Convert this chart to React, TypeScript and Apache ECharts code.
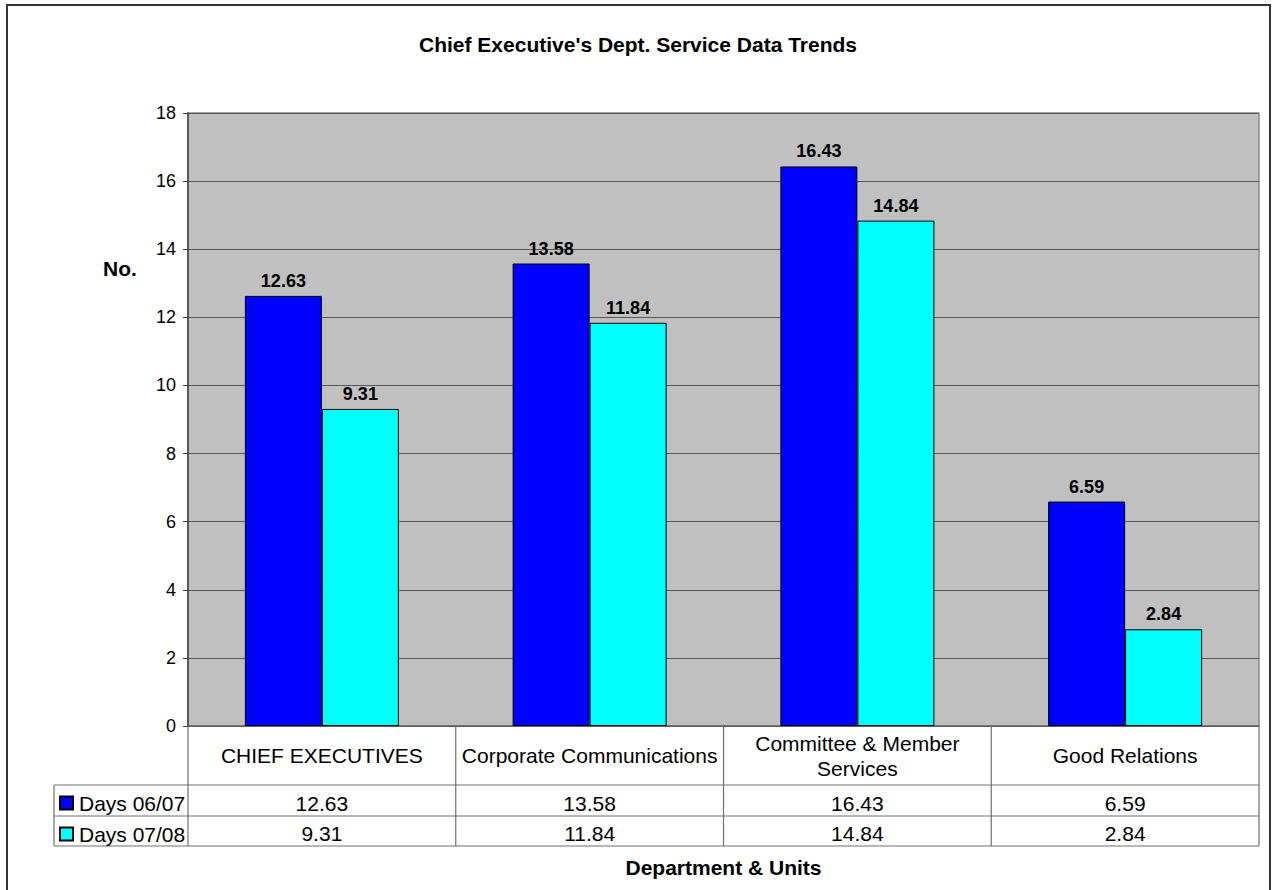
import React, { useEffect, useRef } from "react";
import * as echarts from "echarts";

// Service data per department (days)
const categories = [
  "CHIEF EXECUTIVES",
  "Corporate Communications",
  "Committee & Member\nServices",
  "Good Relations",
];
const seriesNames = ["Days 06/07", "Days 07/08"];
const days0607 = [12.63, 13.58, 16.43, 6.59];
const days0708 = [9.31, 11.84, 14.84, 2.84];
const seriesColors = ["#0000FF", "#00FFFF"];
const yMin = 0;
const yMax = 18;
const yStep = 2;

const W = 1278;
const H = 890;
const FONT = '"Liberation Sans", Arial, Helvetica, sans-serif';

// plot area geometry
const PLOT_LEFT = 188;
const PLOT_RIGHT = 1259;
const PLOT_TOP = 113;
const PLOT_BOTTOM = 726;
// data table geometry below the plot
const ROW_LINES = [785, 816, 846];
const LEGEND_LEFT = 54;
const TABLE_LINE = "#707070";

function buildTable(): any[] {
  const els: any[] = [];
  const n = categories.length;
  const cw = (PLOT_RIGHT - PLOT_LEFT) / n;
  const line = (x1: number, y1: number, x2: number, y2: number) => ({
    type: "line",
    silent: true,
    shape: { x1, y1, x2, y2 },
    style: { stroke: TABLE_LINE, lineWidth: 1.2 },
  });
  const text = (t: string, x: number, y: number) => ({
    type: "text",
    silent: true,
    x,
    y,
    style: {
      text: t,
      fill: "#000",
      font: `21px ${FONT}`,
      fontSize: 21,
      fontFamily: FONT,
      lineHeight: 25,
      align: "center",
      verticalAlign: "middle",
      textAlign: "center",
      textVerticalAlign: "middle",
    },
  });

  ROW_LINES.forEach((y) => els.push(line(LEGEND_LEFT, y, PLOT_RIGHT, y)));
  els.push(line(LEGEND_LEFT, ROW_LINES[0], LEGEND_LEFT, ROW_LINES[2]));
  for (let i = 0; i <= n; i++) {
    const x = PLOT_LEFT + i * cw;
    els.push(line(x, PLOT_BOTTOM, x, ROW_LINES[2]));
  }

  const rows = [days0607, days0708];
  categories.forEach((c, i) => {
    const cx = PLOT_LEFT + (i + 0.5) * cw;
    els.push(text(c, cx, (PLOT_BOTTOM + ROW_LINES[0]) / 2));
    rows.forEach((vals, r) => {
      const cy = (ROW_LINES[r] + ROW_LINES[r + 1]) / 2 + 2.5;
      els.push(text(vals[i].toFixed(2), cx, cy));
    });
  });
  return els;
}

export default function App() {
  const ref = useRef<HTMLDivElement>(null);

  useEffect(() => {
    document.body.style.margin = "0";
    if (!ref.current) return;
    const chart = echarts.init(ref.current, undefined, { renderer: "svg" });

    const barWidth = 77;

    const makeSeries = (name: string, data: number[], color: string) => ({
      name,
      type: "bar",
      data,
      barWidth,
      barGap: "0%",
      itemStyle: { color, borderColor: "#000", borderWidth: 1 },
      label: {
        show: true,
        position: "top",
        distance: 6,
        color: "#000",
        fontFamily: FONT,
        fontSize: 18,
        fontWeight: "bold",
        formatter: (p: any) => Number(p.value).toFixed(2),
      },
    });

    chart.setOption({
      animation: false,
      backgroundColor: "#FFFFFF",
      title: {
        text: "Chief Executive's Dept. Service Data Trends",
        left: 414,
        top: 29,
        padding: 5,
        textStyle: {
          fontFamily: FONT,
          fontSize: 21,
          fontWeight: "bold",
          color: "#000",
        },
      },
      legend: {
        orient: "vertical",
        left: 59,
        top: 792,
        padding: 0,
        itemWidth: 13,
        itemHeight: 13,
        itemGap: 9,
        icon: "rect",
        selectedMode: false,
        data: seriesNames,
        textStyle: {
          fontFamily: FONT,
          fontSize: 21,
          lineHeight: 22,
          color: "#000",
          padding: [0, 0, 0, 1],
        },
      },
      grid: {
        left: PLOT_LEFT,
        top: PLOT_TOP,
        width: PLOT_RIGHT - PLOT_LEFT,
        height: PLOT_BOTTOM - PLOT_TOP,
        show: true,
        backgroundColor: "#C0C0C0",
        borderColor: "#8A8A8A",
        borderWidth: 1.5,
        containLabel: false,
      },
      xAxis: {
        type: "category",
        data: categories,
        name: "Department & Units",
        nameLocation: "middle",
        nameGap: 131,
        nameTextStyle: {
          fontFamily: FONT,
          fontSize: 21,
          fontWeight: "bold",
          color: "#000",
        },
        axisLine: { show: true, lineStyle: { color: "#666", width: 1.5 } },
        axisTick: { show: false },
        axisLabel: { show: false },
      },
      yAxis: {
        type: "value",
        min: yMin,
        max: yMax,
        interval: yStep,
        axisLine: { show: true, lineStyle: { color: "#404040", width: 1.5 } },
        axisTick: {
          show: true,
          inside: false,
          length: 5,
          lineStyle: { color: "#404040" },
        },
        axisLabel: {
          margin: 12,
          fontFamily: FONT,
          fontSize: 18,
          color: "#000",
        },
        splitLine: { show: true, lineStyle: { color: "#555", width: 1.2 } },
      },
      series: [
        makeSeries(seriesNames[0], days0607, seriesColors[0]),
        makeSeries(seriesNames[1], days0708, seriesColors[1]),
      ],
      graphic: [
        {
          type: "rect",
          silent: true,
          z: -10,
          shape: { x: 7, y: 5, width: 1263, height: 900 },
          style: { fill: "none", stroke: "#333", lineWidth: 2 },
        },
        {
          type: "text",
          silent: true,
          x: 103,
          y: 268,
          style: {
            text: "No.",
            fill: "#000",
            fontFamily: FONT,
            fontSize: 21,
            fontWeight: "bold",
            font: `bold 21px ${FONT}`,
            verticalAlign: "middle",
            textVerticalAlign: "middle",
          },
        },
        ...buildTable(),
      ],
    });

    return () => chart.dispose();
  }, []);

  return <div ref={ref} style={{ width: W, height: H }} />;
}
